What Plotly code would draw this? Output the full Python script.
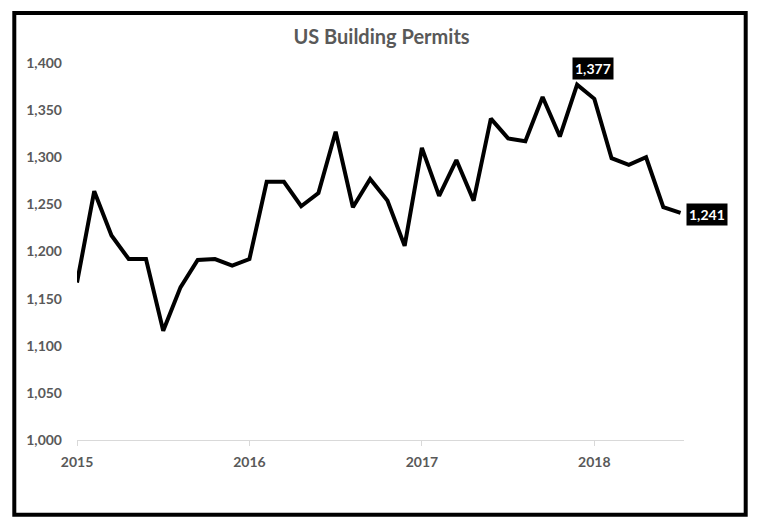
import plotly.graph_objects as go

# ---- data ----
permits = [1167, 1264, 1217, 1192, 1192, 1116, 1162, 1191, 1192, 1185, 1192,
           1274, 1274, 1248, 1262, 1327, 1247, 1277, 1254, 1206, 1310, 1259,
           1297, 1254, 1341, 1320, 1317, 1364, 1322, 1377, 1362, 1299, 1292,
           1300, 1247, 1241]
point_index = list(range(len(permits)))
year_tick_index = [0, 10, 20, 30]
year_labels = ["2015", "2016", "2017", "2018"]
y_ticks = [1000, 1050, 1100, 1150, 1200, 1250, 1300, 1350, 1400]
peak_idx = 29
last_idx = len(permits) - 1

# ---- layout geometry (px) ----
W_FIG, H_FIG = 757, 530
ML, MT = 77, 63
PW, PH = 609, 379          # full plot area incl. 2px shadow offset
MR = W_FIG - ML - PW
MB = H_FIG - MT - PH
dx = 2 / PW
dy = 2 / PH

GRAY = "#595959"
FONT = "Lato"

fig = go.Figure()

# soft shadow (same data, axes shifted 2px right/down) -- drawn first
fig.add_trace(go.Scatter(x=point_index, y=permits, mode="lines",
                         line=dict(color="rgba(0,0,0,0.16)", width=6),
                         xaxis="x", yaxis="y", hoverinfo="skip",
                         showlegend=False))
# main line on the visible axes
fig.add_trace(go.Scatter(x=point_index, y=permits, mode="lines",
                         line=dict(color="black", width=4),
                         xaxis="x2", yaxis="y2",
                         showlegend=False))

xr = [0, 35.2]
yr = [1000, 1400]
tick_font = dict(family=FONT, size=14, color=GRAY, weight=700)

fig.update_layout(
    width=W_FIG, height=H_FIG,
    margin=dict(l=ML, r=MR, t=MT, b=MB),
    paper_bgcolor="white", plot_bgcolor="white",
    font=dict(family=FONT, color=GRAY),
    title=dict(text="US Building Permits", x=0.5, xref="paper",
               y=1 - 37 / H_FIG, yref="container", yanchor="middle",
               xanchor="center",
               font=dict(family=FONT, size=20, color=GRAY, weight=700)),
    xaxis=dict(domain=[dx, 1], range=xr, visible=False, anchor="y"),
    yaxis=dict(domain=[0, 1 - dy], range=yr, visible=False, anchor="x"),
    xaxis2=dict(domain=[0, 1 - dx], range=xr, anchor="y2",
                showgrid=False, zeroline=False,
                showline=True, linecolor="#d9d9d9", linewidth=1,
                ticks="outside", ticklen=5, tickcolor="#d9d9d9",
                ticklabelstandoff=4,
                tickvals=year_tick_index, ticktext=year_labels,
                tickfont=tick_font),
    yaxis2=dict(domain=[dy, 1], range=yr, anchor="x2",
                showgrid=False, zeroline=False, showline=False,
                tickvals=y_ticks, tickformat=",",
                ticklabelstandoff=14, tickfont=tick_font),
)

label_font = dict(family=FONT, size=14, color="white", weight=700)
fig.add_annotation(x=peak_idx, y=permits[peak_idx], xref="x2", yref="y2",
                   text=f"{permits[peak_idx]:,}", showarrow=False,
                   xshift=16, yshift=16, bgcolor="black", borderpad=2,
                   font=label_font)
fig.add_annotation(x=last_idx, y=permits[last_idx], xref="x2", yref="y2",
                   text=f"{permits[last_idx]:,}", showarrow=False,
                   xshift=26, yshift=-2, bgcolor="black", borderpad=2,
                   font=label_font)

# outer black frame (pixel coordinates converted to paper)
def px_x(p):
    return (p - ML) / PW

def px_y(p):
    return 1 - (p - MT) / PH

fig.add_shape(type="rect", xref="paper", yref="paper",
              x0=px_x(14.3), x1=px_x(745.7), y0=px_y(514.7), y1=px_y(13),
              line=dict(color="black", width=4), fillcolor="rgba(0,0,0,0)",
              layer="above")

fig.write_html("out.html",
               config={"displayModeBar": False},
               post_script="document.body.style.margin='0px';")
